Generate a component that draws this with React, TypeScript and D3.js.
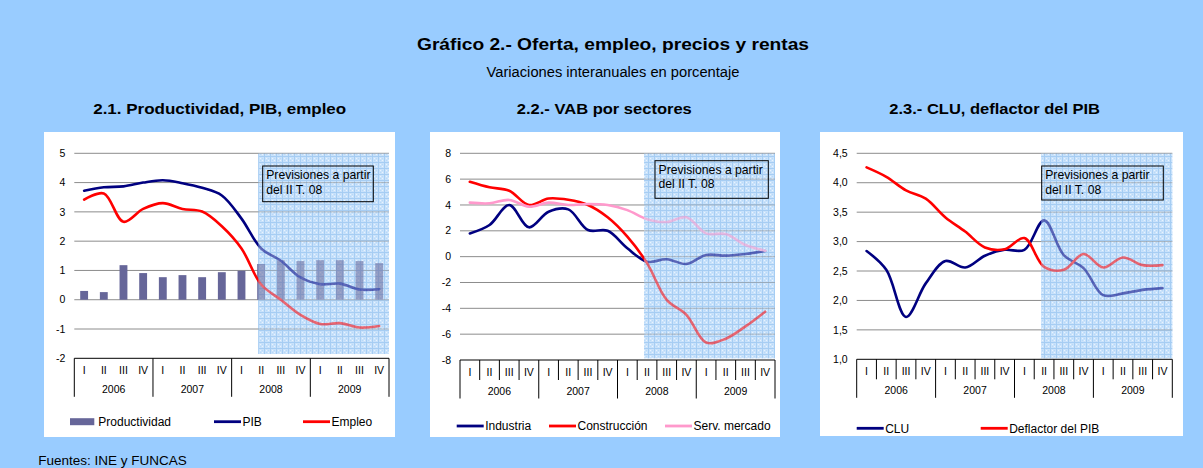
import React from 'react';
import * as d3 from 'd3';

// ---------- DATA ----------
const quarterLabels = ["I", "II", "III", "IV", "I", "II", "III", "IV", "I", "II", "III", "IV", "I", "II", "III", "IV"];
const yearLabels = ["2006", "2007", "2008", "2009"];

// 2.1 Productividad, PIB, empleo
const productividad = [0.3, 0.26, 1.18, 0.91, 0.77, 0.84, 0.77, 0.94, 0.99, 1.22, 1.35, 1.32, 1.35, 1.35, 1.32, 1.25];
const pib = [3.72, 3.84, 3.87, 4.0, 4.08, 3.98, 3.82, 3.56, 2.77, 1.75, 1.33, 0.76, 0.53, 0.55, 0.35, 0.36];
const empleo = [3.42, 3.63, 2.66, 3.1, 3.3, 3.1, 3.01, 2.51, 1.75, 0.52, 0.0, -0.52, -0.83, -0.8, -0.95, -0.9];

// 2.2 VAB por sectores
const industria = [1.8, 2.45, 4.0, 2.27, 3.48, 3.66, 2.06, 2.0, 0.65, -0.39, -0.2, -0.57, 0.13, 0.08, 0.2, 0.44];
const construccion = [5.8, 5.37, 5.1, 4.0, 4.5, 4.4, 4.0, 3.05, 1.55, -0.5, -3.35, -4.5, -6.65, -6.35, -5.4, -4.26];
const servMercado = [4.18, 4.13, 4.39, 3.87, 4.18, 4.0, 4.08, 4.0, 3.6, 2.9, 2.68, 3.05, 1.8, 1.75, 0.9, 0.46];

// 2.3 CLU, deflactor del PIB
const clu = [2.84, 2.52, 1.72, 2.29, 2.67, 2.56, 2.76, 2.86, 2.86, 3.36, 2.77, 2.55, 2.09, 2.12, 2.18, 2.21];
const deflactor = [4.26, 4.1, 3.87, 3.73, 3.41, 3.17, 2.9, 2.87, 3.06, 2.57, 2.52, 2.79, 2.56, 2.73, 2.6, 2.6];

const ticks1 = [-2, -1, 0, 1, 2, 3, 4, 5];
const ticks2 = [-8, -6, -4, -2, 0, 2, 4, 6, 8];
const ticks3 = [1.0, 1.5, 2.0, 2.5, 3.0, 3.5, 4.0, 4.5];

const forecastStart = 9.35; // position (in quarters) where the forecast shading begins
const noteLines = ["Previsiones a partir", "del II T. 08"];

const mainTitle = "Gráfico 2.- Oferta, empleo, precios y rentas";
const subTitle = "Variaciones interanuales en porcentaje";
const footer = "Fuentes: INE y FUNCAS";

// ---------- STYLE / LAYOUT ----------
const FONT = "Arial, 'Liberation Sans', Helvetica, sans-serif";
const NAVY = "#000080";
const RED = "#ff0000";
const PINK = "#ff99cc";
const BAR = "#666699";
const GRID = "#8c8c8c";

type Series = { name: string; values: number[]; color: string; kind: 'bar' | 'line' };

interface PanelCfg {
  id: string;
  title: string;
  titleX: number;
  titleLen: number;
  bg: [number, number, number, number];
  x0: number; x1: number; yT: number; yB: number;
  domain: [number, number];
  ticks: number[];
  fmt: (v: number) => string;
  quarterTicks: boolean;
  shadeBottom: number;
  box: [number, number, number, number];
  series: Series[];
  legendY: number;
  legendX: number[];
}

const fmtInt = (v: number) => String(v);
const fmtComma = (v: number) => v.toFixed(1).replace(".", ",");

const panels: PanelCfg[] = [
  {
    id: "p1", title: "2.1. Productividad, PIB, empleo", titleX: 219.7, titleLen: 253,
    bg: [44, 132, 351, 305], x0: 74.3, x1: 389, yT: 153.3, yB: 358.3,
    domain: [-2, 5], ticks: ticks1, fmt: fmtInt, quarterTicks: false, shadeBottom: 354,
    box: [262.7, 166, 110.6, 35.7],
    series: [
      { name: "Productividad", values: productividad, color: BAR, kind: 'bar' },
      { name: "PIB", values: pib, color: NAVY, kind: 'line' },
      { name: "Empleo", values: empleo, color: RED, kind: 'line' },
    ],
    legendY: 421.7, legendX: [70, 214, 303],
  },
  {
    id: "p2", title: "2.2.- VAB por sectores", titleX: 604.3, titleLen: 175,
    bg: [430, 132, 350, 305], x0: 460, x1: 775, yT: 153.3, yB: 360,
    domain: [-8, 8], ticks: ticks2, fmt: fmtInt, quarterTicks: true, shadeBottom: 358.3,
    box: [655, 160.7, 113.3, 37.6],
    series: [
      { name: "Industria", values: industria, color: NAVY, kind: 'line' },
      { name: "Construcción", values: construccion, color: RED, kind: 'line' },
      { name: "Serv. mercado", values: servMercado, color: PINK, kind: 'line' },
    ],
    legendY: 426, legendX: [456.7, 549, 665],
  },
  {
    id: "p3", title: "2.3.- CLU, deflactor del PIB", titleX: 994.7, titleLen: 210.7,
    bg: [820, 132, 363, 304], x0: 856.7, x1: 1172.3, yT: 153.3, yB: 359.3,
    domain: [1, 4.5], ticks: ticks3, fmt: fmtComma, quarterTicks: true, shadeBottom: 358.3,
    box: [1041.7, 166, 121.6, 34],
    series: [
      { name: "CLU", values: clu, color: NAVY, kind: 'line' },
      { name: "Deflactor del PIB", values: deflactor, color: RED, kind: 'line' },
    ],
    legendY: 428.3, legendX: [856.7, 980.7],
  },
];

function Panel({ cfg }: { cfg: PanelCfg }) {
  const x = d3.scaleLinear().domain([0, 16]).range([cfg.x0, cfg.x1]);
  const y = d3.scaleLinear().domain(cfg.domain).range([cfg.yB, cfg.yT]);
  const bw = x(1) - x(0);
  const cx = (i: number) => x(i + 0.5);
  const lineGen = d3.line<number>()
    .x((_, i) => cx(i))
    .y(d => y(d))
    .curve(d3.curveCatmullRom.alpha(0.5));

  const shadeX = x(forecastStart);
  const shadeW = cfg.x1 - shadeX;
  const shadeH = cfg.shadeBottom - cfg.yT;
  const [bx, by, bwid, bh] = cfg.box;

  const bars = cfg.series.filter(s => s.kind === 'bar');
  const lines = cfg.series.filter(s => s.kind === 'line');

  return (
    <g>
      <rect x={cfg.bg[0]} y={cfg.bg[1]} width={cfg.bg[2]} height={cfg.bg[3]} fill="#ffffff" />
      <text x={cfg.titleX} y={114} textAnchor="middle" fontFamily={FONT} fontWeight="bold" fontSize={15.5}
        textLength={cfg.titleLen} lengthAdjust="spacingAndGlyphs">{cfg.title}</text>

      {/* forecast shading base */}
      <rect x={shadeX} y={cfg.yT} width={shadeW} height={shadeH} fill="url(#shade)" />

      {/* gridlines */}
      {cfg.ticks.slice(1).map(t => (
        <line key={t} x1={cfg.x0} x2={cfg.x1} y1={y(t)} y2={y(t)} stroke={GRID} strokeWidth={1} />
      ))}
      {/* tick labels */}
      {cfg.ticks.map(t => (
        <text key={t} x={cfg.x0 - 9} y={y(t)} dy="0.35em" textAnchor="end" fontFamily={FONT} fontSize={10.5}>{cfg.fmt(t)}</text>
      ))}

      {/* bars */}
      {bars.map(s => s.values.map((v, i) => (
        <rect key={s.name + i} x={cx(i) - bw * 0.2} width={bw * 0.4}
          y={Math.min(y(v), y(0))} height={Math.abs(y(v) - y(0))} fill={s.color} />
      )))}

      {/* lines */}
      {lines.map(s => (
        <path key={s.name} d={lineGen(s.values) || ""} fill="none" stroke={s.color} strokeWidth={2.6}
          strokeLinejoin="round" strokeLinecap="round" />
      ))}

      {/* forecast overlay */}
      <rect x={shadeX} y={cfg.yT} width={shadeW} height={shadeH} fill="url(#shade)" opacity={0.45} />

      {/* note box */}
      <rect x={bx} y={by} width={bwid} height={bh} fill="none" stroke="#000" strokeWidth={1} />
      <text x={bx + 3.5} y={by + 13} fontFamily={FONT} fontSize={12.2}>{noteLines[0]}</text>
      <text x={bx + 3.5} y={by + 27.5} fontFamily={FONT} fontSize={12.2}>{noteLines[1]}</text>

      {/* category axis */}
      <line x1={cfg.x0} x2={cfg.x1} y1={cfg.yB} y2={cfg.yB} stroke="#000" strokeWidth={1} />
      {cfg.quarterTicks && d3.range(1, 16).filter(i => i % 4 !== 0).map(i => (
        <line key={"q" + i} x1={x(i)} x2={x(i)} y1={cfg.yB} y2={cfg.yB + 20} stroke="#000" strokeWidth={1} />
      ))}
      {d3.range(0, 17, 4).map(i => (
        <line key={"y" + i} x1={x(i)} x2={x(i)} y1={cfg.yB} y2={cfg.yB + 38.5} stroke="#000" strokeWidth={1} />
      ))}
      {quarterLabels.map((q, i) => (
        <text key={"ql" + i} x={cx(i)} y={cfg.yB + 16} textAnchor="middle" fontFamily={FONT} fontSize={10.5}>{q}</text>
      ))}
      {yearLabels.map((yl, j) => (
        <text key={"yl" + j} x={x(j * 4 + 2)} y={cfg.yB + 35} textAnchor="middle" fontFamily={FONT} fontSize={10.5}>{yl}</text>
      ))}

      {/* legend */}
      {cfg.series.map((s, k) => {
        const lx = cfg.legendX[k];
        return (
          <g key={"lg" + k}>
            {s.kind === 'bar'
              ? <rect x={lx} y={cfg.legendY - 3.5} width={24.3} height={7} fill={s.color} />
              : <line x1={lx} x2={lx + 27} y1={cfg.legendY} y2={cfg.legendY} stroke={s.color} strokeWidth={2.8} />}
            <text x={lx + (s.kind === 'bar' ? 28.3 : 28.5)} y={cfg.legendY} dy="0.36em" fontFamily={FONT} fontSize={12}>{s.name}</text>
          </g>
        );
      })}
    </g>
  );
}

export default function App() {
  return (
    <svg width={1203} height={468} style={{ position: 'absolute', left: 0, top: 0, display: 'block' }}
      xmlns="http://www.w3.org/2000/svg">
      <defs>
        <pattern id="shade" width={6} height={6} patternUnits="userSpaceOnUse">
          <rect width={6} height={6} fill="#c9e2fb" />
          <path d="M0 0.5H6M0.5 0V6" stroke="#a6cdf3" strokeWidth={1} />
          <rect x={2} y={2} width={1} height={1} fill="#e8f3fe" />
          <rect x={4} y={4} width={1} height={1} fill="#e8f3fe" />
          <rect x={4} y={2} width={1} height={1} fill="#b8d9f8" />
          <rect x={2} y={4} width={1} height={1} fill="#b8d9f8" />
        </pattern>
      </defs>
      <rect x={0} y={0} width={1203} height={468} fill="#99ccff" />
      <text x={613} y={49.5} textAnchor="middle" fontFamily={FONT} fontWeight="bold" fontSize={17}
        textLength={392} lengthAdjust="spacingAndGlyphs">{mainTitle}</text>
      <text x={613} y={77} textAnchor="middle" fontFamily={FONT} fontSize={14.7}>{subTitle}</text>
      {panels.map(p => <Panel key={p.id} cfg={p} />)}
      <text x={38.3} y={465} fontFamily={FONT} fontSize={13.5}>{footer}</text>
    </svg>
  );
}
